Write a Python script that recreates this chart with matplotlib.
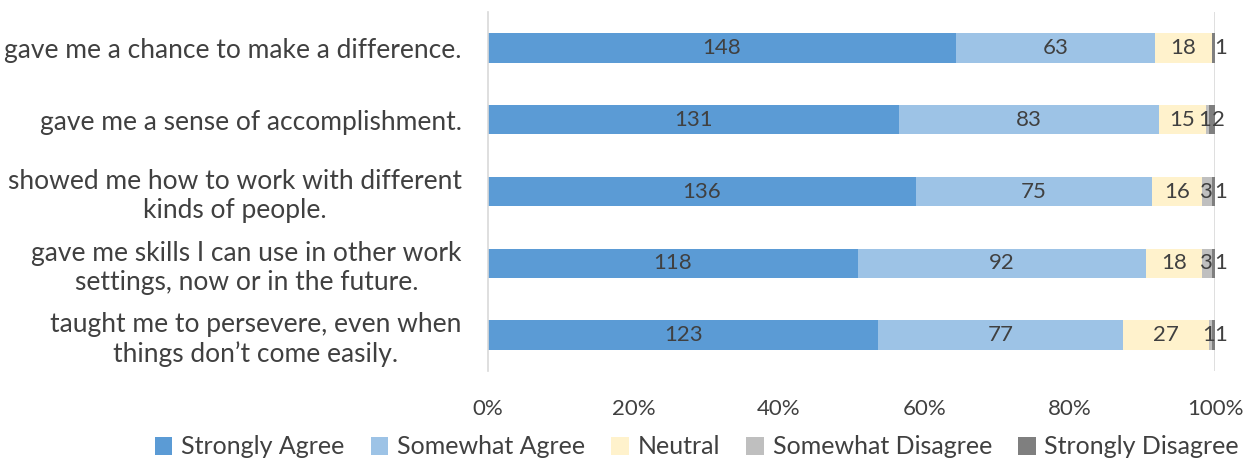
import matplotlib
matplotlib.use("Agg")
import matplotlib.pyplot as plt
import numpy as np

plt.rcParams['font.family'] = ['Lato', 'DejaVu Sans']

categories = [
    "gave me a chance to make a difference.",
    "gave me a sense of accomplishment.",
    "showed me how to work with different\nkinds of people.",
    "gave me skills I can use in other work\nsettings, now or in the future.",
    "taught me to persevere, even when\nthings don\u2019t come easily.",
]
series_names = ["Strongly Agree", "Somewhat Agree", "Neutral", "Somewhat Disagree", "Strongly Disagree"]
strongly_agree = [148, 131, 136, 118, 123]
somewhat_agree = [63, 83, 75, 92, 77]
neutral = [18, 15, 16, 18, 27]
somewhat_disagree = [0, 1, 3, 3, 1]
strongly_disagree = [1, 2, 1, 1, 1]
colors = ["#5B9BD5", "#9DC3E6", "#FFF2CC", "#BFBFBF", "#7F7F7F"]
xticks = [0, 0.2, 0.4, 0.6, 0.8, 1.0]
xtick_labels = ["0%", "20%", "40%", "60%", "80%", "100%"]

data = np.array([strongly_agree, somewhat_agree, neutral, somewhat_disagree, strongly_disagree], dtype=float)
totals = data.sum(axis=0)
frac = data / totals

fig = plt.figure(figsize=(12.47, 4.62), dpi=100)
ax = fig.add_axes([488/1247, 1-371/462, (1215-488)/1247, (371-12)/462])

y = np.arange(len(categories))
left = np.zeros(len(categories))
txtcol = "#404040"
offsets = [0, 0, 0, -1.5, 5]
for i, name in enumerate(series_names):
    ax.barh(y, frac[i], left=left, height=0.41, color=colors[i], label=name, zorder=2)
    for j in range(len(categories)):
        if data[i, j] > 0:
            ax.annotate(f"{int(data[i, j])}", (left[j] + frac[i, j] / 2, y[j]),
                        xytext=(offsets[i], 0), textcoords='offset points',
                        ha='center', va='center', fontsize=16, color=txtcol, zorder=3)
    left += frac[i]

ax.set_ylim(len(categories) - 0.5, -0.5)
ax.set_xlim(0, 1)
ax.set_yticks(y)
ax.set_yticklabels(categories, fontsize=19, color=txtcol, multialignment='center')
ax.set_xticks(xticks)
ax.set_xticklabels(xtick_labels, fontsize=16, color=txtcol)
ax.tick_params(axis='both', length=0)
ax.tick_params(axis='y', pad=19)
ax.tick_params(axis='x', pad=20)
for s in ['top', 'right', 'bottom']:
    ax.spines[s].set_visible(False)
ax.spines['left'].set_color('#D9D9D9')
ax.spines['left'].set_linewidth(1.2)
ax.axvline(1.0, color='#D9D9D9', lw=1.2, zorder=1)

fig.legend(loc='center', bbox_to_anchor=(697/1247, 1-447/462), ncol=5, frameon=False,
           fontsize=18, handlelength=0.7, handleheight=0.7, handletextpad=0.35,
           columnspacing=1.05, labelcolor=txtcol)

fig.savefig("out.png", dpi=100)
